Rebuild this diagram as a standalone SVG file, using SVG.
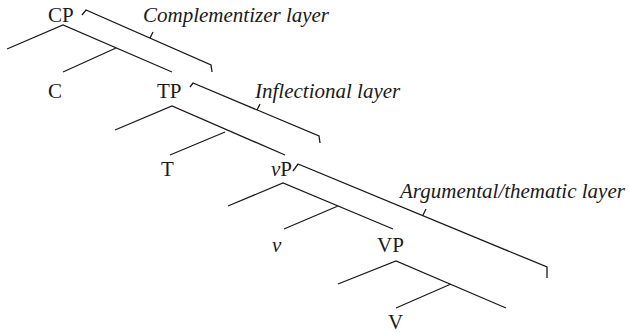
<svg xmlns="http://www.w3.org/2000/svg" width="629" height="333" viewBox="0 0 629 333">
<style>
.ln{fill:none;stroke:#1a1a1a;stroke-width:1.3;stroke-linecap:butt;stroke-linejoin:miter}
.nd{font-family:"Liberation Serif","Times New Roman",serif;font-size:21px;fill:#1a1a1a}
.lb{font-family:"Liberation Serif","Times New Roman",serif;font-size:21px;font-style:italic;fill:#1a1a1a}
</style>
<rect width="629" height="333" fill="#fff"/>
<g id="connectors">
<path class="ln" d="M7,49 L63,25 L172,72 M116,48 L63,72"/>
<path class="ln" d="M115,130 L172,106 L285,155 M225,132 L170,155"/>
<path class="ln" d="M228,206 L283,183 L393,229 M338,206 L284,229"/>
<path class="ln" d="M338,284 L396,261 L506,308 M451,284 L396,308"/>
</g>
<g id="brackets">
<path class="ln" d="M82,15 L86,10 L211,65 L212,72 M150,38 L153,32"/>
<path class="ln" d="M190,87 L193,83 L319,136 L320,143 M257,110 L260,104"/>
<path class="ln" d="M293,171 L298,164 L547,267 L547,278 M423,215 L426,209"/>
</g>
<g id="n-CP"><text class="nd" x="48" y="22">CP</text></g>
<g id="n-C"><text class="nd" x="48" y="98">C</text></g>
<g id="n-TP"><text class="nd" x="157" y="98">TP</text></g>
<g id="n-T"><text class="nd" x="161" y="176">T</text></g>
<g id="n-vP"><text class="nd" x="271" y="176"><tspan font-style="italic">v</tspan>P</text></g>
<g id="n-v"><text class="nd" x="272" y="252" font-style="italic">v</text></g>
<g id="n-VP"><text class="nd" x="377" y="252">VP</text></g>
<g id="n-V"><text class="nd" x="388" y="329">V</text></g>
<g id="l-comp"><text class="lb" x="143" y="22">Complementizer layer</text></g>
<g id="l-infl"><text class="lb" x="255" y="98">Inflectional layer</text></g>
<g id="l-arg"><text class="lb" x="400" y="198">Argumental/thematic layer</text></g>
</svg>
